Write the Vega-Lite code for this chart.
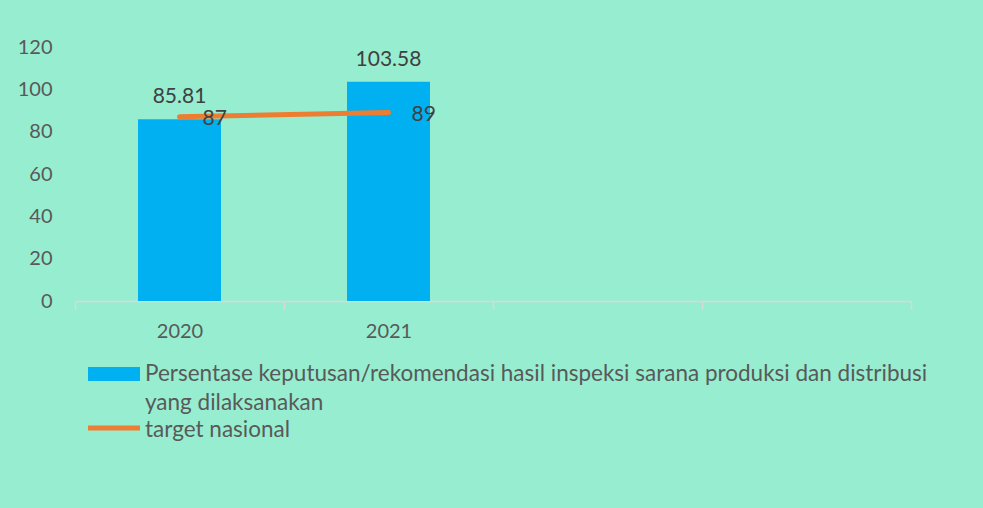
{
  "$schema": "https://vega.github.io/schema/vega-lite/v6.json",
  "width": 836,
  "height": 254,
  "autosize": {"type": "none"},
  "padding": {"left": 75, "top": 47, "right": 72, "bottom": 207},
  "background": "#97EDD0",
  "config": {
    "view": {"stroke": null},
    "font": "Lato",
    "axis": {"labelFont": "Lato", "labelFontSize": 20, "labelColor": "#595959", "title": null}
  },
  "data": {
    "values": [
      {"tahun": "2020", "seri": "Persentase keputusan/rekomendasi hasil inspeksi sarana produksi dan distribusi yang dilaksanakan", "nilai": 85.81},
      {"tahun": "2021", "seri": "Persentase keputusan/rekomendasi hasil inspeksi sarana produksi dan distribusi yang dilaksanakan", "nilai": 103.58},
      {"tahun": "2020", "seri": "target nasional", "nilai": 87},
      {"tahun": "2021", "seri": "target nasional", "nilai": 89}
    ]
  },
  "encoding": {
    "x": {
      "field": "tahun",
      "type": "nominal",
      "scale": {"domain": ["2020", "2021", " ", "  "], "paddingInner": 0, "paddingOuter": 0},
      "axis": {
        "labelAngle": 0,
        "domainColor": "#D9D9D9",
        "domainWidth": 1.5,
        "tickColor": "#D9D9D9",
        "tickWidth": 1.5,
        "tickSize": 8,
        "tickBand": "extent",
        "labelPadding": 12
      }
    },
    "y": {
      "field": "nilai",
      "type": "quantitative",
      "scale": {"domain": [0, 120], "nice": false},
      "axis": {
        "values": [0, 20, 40, 60, 80, 100, 120],
        "domain": false,
        "grid": false,
        "ticks": false,
        "tickSize": 0,
        "labelPadding": 23
      }
    }
  },
  "layer": [
    {
      "transform": [{"filter": "datum.seri !== 'target nasional'"}],
      "mark": {"type": "bar", "width": 83},
      "encoding": {
        "color": {
          "field": "seri",
          "type": "nominal",
          "scale": {
            "domain": ["Persentase keputusan/rekomendasi hasil inspeksi sarana produksi dan distribusi yang dilaksanakan", "target nasional"],
            "range": ["#00B0F0", "#ED7D31"]
          },
          "legend": {
            "title": null,
            "orient": "none",
            "legendX": 13,
            "legendY": 301,
            "padding": 0,
            "labelFont": "Lato",
            "labelFontSize": 22.5,
            "labelColor": "#595959",
            "labelLimit": 900,
            "labelOffset": 5,
            "rowPadding": 0,
            "symbolSize": 2704,
            "labelExpr": "datum.label === 'target nasional' ? datum.label : ['Persentase keputusan/rekomendasi hasil inspeksi sarana produksi dan distribusi', 'yang dilaksanakan']",
            "encode": {
              "labels": {"update": {
                "lineHeight": {"value": 29},
                "dy": {"signal": "datum.value === 'target nasional' ? -11 : 0"}
              }},
              "symbols": {
                "update": {
                  "shape": {"signal": "datum.value === 'target nasional' ? 'M-1,-0.6L1,-0.6L1,-0.4L-1,-0.4Z' : 'M-1,-0.27L1,-0.27L1,0.27L-1,0.27Z'"},
                  "fill": {"signal": "datum.value === 'target nasional' ? '#ED7D31' : '#00B0F0'"},
                  "stroke": {"value": "transparent"},
                  "strokeWidth": {"value": 0},
                  "opacity": {"value": 1}
                }
              }
            }
          }
        }
      }
    },
    {
      "transform": [{"filter": "datum.seri !== 'target nasional'"}],
      "mark": {"type": "text", "baseline": "bottom", "dy": -12, "fontSize": 21, "color": "#404040", "font": "Lato"},
      "encoding": {"text": {"field": "nilai", "type": "quantitative", "format": ".2f"}}
    },
    {
      "transform": [{"filter": "datum.seri === 'target nasional'"}],
      "mark": {"type": "line", "strokeWidth": 5, "strokeCap": "round"},
      "encoding": {
        "color": {"field": "seri", "type": "nominal"}
      }
    },
    {
      "transform": [{"filter": "datum.seri === 'target nasional'"}],
      "mark": {"type": "text", "align": "left", "baseline": "middle", "dx": 23, "dy": 2, "fontSize": 21, "color": "#404040", "font": "Lato"},
      "encoding": {"text": {"field": "nilai", "type": "quantitative", "format": "d"}}
    }
  ]
}
